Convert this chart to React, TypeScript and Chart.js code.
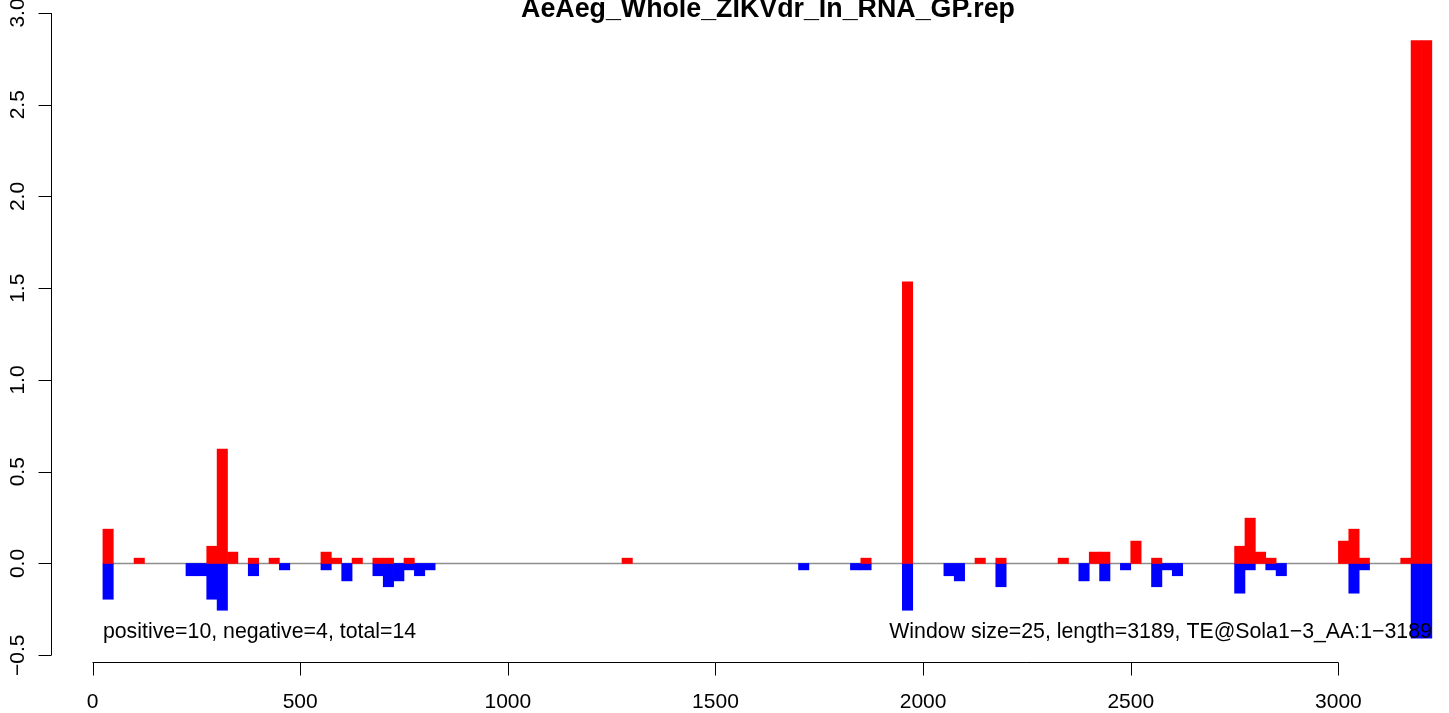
import React, { useEffect, useRef } from "react";
import { Chart, registerables } from "chart.js";

Chart.register(...registerables);

// ---------------- data ----------------
const TITLE = "AeAeg_Whole_ZIKVdr_In_RNA_GP.rep";
const WINDOW_SIZE = 25;
const LINE_START = 25;
const LINE_END = 3225;
const LEFT_NOTE = "positive=10, negative=4, total=14";
const RIGHT_NOTE = "Window size=25, length=3189, TE@Sola1\u22123_AA:1\u22123189";

// window start positions (nt) and values of the positive (red) windows
const positiveStarts = [
  25, 100, 275, 300, 325, 375, 425, 550, 575, 625, 675, 700, 750, 1275, 1850, 1950,
  2125, 2175, 2325, 2400, 2425, 2500, 2550, 2750, 2775, 2800, 2825, 3000, 3025, 3050,
  3150, 3175, 3200,
];
const positiveValues = [
  0.187, 0.029, 0.094, 0.624, 0.062, 0.029, 0.029, 0.062, 0.029, 0.029, 0.029, 0.029, 0.029, 0.029, 0.029, 1.535,
  0.029, 0.029, 0.029, 0.062, 0.062, 0.122, 0.029, 0.094, 0.247, 0.062, 0.029, 0.122, 0.187, 0.029,
  0.029, 2.85, 2.85,
];

// window start positions (nt) and values of the negative (blue) windows
const negativeStarts = [
  25, 225, 250, 275, 300, 375, 450, 550, 600, 675, 700, 725, 750, 775, 800, 1700,
  1825, 1850, 1950, 2050, 2075, 2175, 2375, 2425, 2475, 2550, 2575, 2600, 2750, 2775,
  2825, 2850, 3025, 3050, 3175, 3200,
];
const negativeValues = [
  -0.195, -0.067, -0.067, -0.195, -0.255, -0.067, -0.035, -0.035, -0.095, -0.067, -0.127, -0.095, -0.035, -0.067, -0.035, -0.035,
  -0.035, -0.035, -0.255, -0.067, -0.095, -0.127, -0.095, -0.095, -0.035, -0.127, -0.035, -0.067, -0.162, -0.035,
  -0.035, -0.067, -0.162, -0.035, -0.407, -0.407,
];

const xTicks = [0, 500, 1000, 1500, 2000, 2500, 3000];
const yTicks = [-0.5, 0, 0.5, 1.0, 1.5, 2.0, 2.5, 3.0];

const FONT = '"Liberation Sans", Arial, Helvetica, sans-serif';

function fmtY(v: number): string {
  const s = v.toFixed(1);
  return s.startsWith("-") ? "\u2212" + s.slice(1) : s;
}

const rAxesPlugin = {
  id: "rAxes",
  beforeDatasetsDraw(chart: any) {
    const { ctx, scales } = chart;
    const x = scales.x;
    const y = scales.y;
    ctx.save();
    ctx.strokeStyle = "#8e8e8e";
    ctx.lineWidth = 1.5;
    ctx.beginPath();
    const y0 = y.getPixelForValue(0);
    ctx.moveTo(x.getPixelForValue(LINE_START), y0);
    ctx.lineTo(x.getPixelForValue(LINE_END), y0);
    ctx.stroke();
    ctx.restore();
  },
  afterDraw(chart: any) {
    const { ctx, scales, chartArea } = chart;
    const x = scales.x;
    const y = scales.y;
    ctx.save();
    ctx.strokeStyle = "#000";
    ctx.fillStyle = "#000";
    ctx.lineWidth = 1;

    // bottom axis
    const axY = chartArea.bottom + 0.5;
    ctx.beginPath();
    ctx.moveTo(x.getPixelForValue(xTicks[0]), axY);
    ctx.lineTo(x.getPixelForValue(xTicks[xTicks.length - 1]), axY);
    xTicks.forEach((t) => {
      const px = Math.round(x.getPixelForValue(t)) + 0.5;
      ctx.moveTo(px, axY);
      ctx.lineTo(px, axY + 13);
    });
    ctx.stroke();
    ctx.font = `21px ${FONT}`;
    ctx.textAlign = "center";
    ctx.textBaseline = "alphabetic";
    xTicks.forEach((t) => {
      ctx.fillText(String(t), x.getPixelForValue(t), axY + 45);
    });

    // left axis
    const axX = chartArea.left + 0.5;
    ctx.beginPath();
    ctx.moveTo(axX, y.getPixelForValue(yTicks[0]));
    ctx.lineTo(axX, y.getPixelForValue(yTicks[yTicks.length - 1]));
    yTicks.forEach((t) => {
      const py = Math.round(y.getPixelForValue(t)) + 0.5;
      ctx.moveTo(axX, py);
      ctx.lineTo(axX - 13, py);
    });
    ctx.stroke();
    yTicks.forEach((t) => {
      ctx.save();
      ctx.translate(axX - 28, y.getPixelForValue(t));
      ctx.rotate(-Math.PI / 2);
      ctx.textAlign = "center";
      ctx.textBaseline = "alphabetic";
      ctx.fillText(fmtY(t), 0, 0);
      ctx.restore();
    });

    // notes
    ctx.font = `21.3px ${FONT}`;
    ctx.textBaseline = "alphabetic";
    ctx.textAlign = "left";
    ctx.fillText(LEFT_NOTE, x.getPixelForValue(LINE_START), 638);
    ctx.textAlign = "right";
    ctx.fillText(RIGHT_NOTE, x.getPixelForValue(LINE_END), 638);

    // title
    ctx.font = `bold 26.8px ${FONT}`;
    ctx.textAlign = "center";
    ctx.fillText(TITLE, (chartArea.left + chartArea.right) / 2, 17);
    ctx.restore();
  },
};

export default function App() {
  const canvasRef = useRef<HTMLCanvasElement | null>(null);

  useEffect(() => {
    const canvas = canvasRef.current;
    if (!canvas) return;
    const chart = new Chart(canvas, {
      type: "bar",
      data: {
        datasets: [
          {
            label: "positive",
            data: positiveStarts.map((s, i) => ({ x: s + WINDOW_SIZE / 2, y: positiveValues[i] })),
            backgroundColor: "#ff0000",
            borderWidth: 0,
            grouped: false,
            barPercentage: 1,
            categoryPercentage: 1,
          } as any,
          {
            label: "negative",
            data: negativeStarts.map((s, i) => ({ x: s + WINDOW_SIZE / 2, y: negativeValues[i] })),
            backgroundColor: "#0000ff",
            borderWidth: 0,
            grouped: false,
            barPercentage: 1,
            categoryPercentage: 1,
          } as any,
        ],
      },
      options: {
        animation: false,
        responsive: false,
        maintainAspectRatio: false,
        devicePixelRatio: 1,
        layout: { padding: { left: 51, right: 35, top: 13, bottom: 51 } },
        plugins: {
          legend: { display: false },
          tooltip: { enabled: false },
          title: { display: false },
        },
        scales: {
          x: {
            type: "linear",
            min: -100,
            max: 3353,
            display: false,
            offset: false,
            grid: { offset: false },
            ticks: { stepSize: 500 },
          },
          y: { type: "linear", min: -0.537, max: 3.0, display: false },
        },
      } as any,
      plugins: [rAxesPlugin],
    });
    return () => chart.destroy();
  }, []);

  return (
    <div
      style={{
        position: "absolute",
        left: 0,
        top: 0,
        width: 1449,
        height: 713,
        overflow: "hidden",
        background: "#fff",
      }}
    >
      <canvas ref={canvasRef} width={1520} height={713} style={{ display: "block", width: 1520, height: 713 }} />
    </div>
  );
}
